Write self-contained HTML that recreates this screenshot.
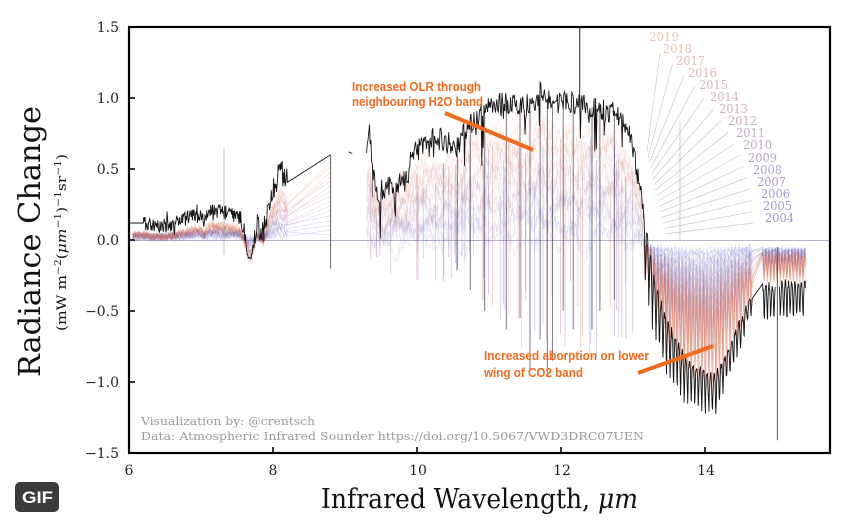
<!DOCTYPE html>
<html><head><meta charset="utf-8">
<style>
html,body{margin:0;padding:0;background:#fff;}
svg{display:block}
.tk{font-family:"DejaVu Serif","Liberation Serif",serif;font-size:14px;fill:#222}
.yr{font-family:"DejaVu Serif","Liberation Serif",serif;font-size:12px}
.ann{font-family:"Liberation Sans",Arial,sans-serif;font-weight:bold;font-size:12.5px;fill:#f26a1c}
.wm{font-family:"DejaVu Serif","Liberation Serif",serif;font-size:11px;fill:#9a9a9a}
</style></head><body>
<svg id="s" width="841" height="527" viewBox="0 0 841 527" xmlns="http://www.w3.org/2000/svg">
<defs><clipPath id="cp"><rect x="129" y="27" width="701" height="426"/></clipPath></defs>
<rect width="841" height="527" fill="#fff"/>
<line x1="129" y1="240.5" x2="830" y2="240.5" stroke="#b4b4c6" stroke-width="1"/>
<g id="lead"></g>
<g id="cur" clip-path="url(#cp)"></g>

<!-- year labels -->
<text class="yr" x="765" y="222" textLength="29" lengthAdjust="spacingAndGlyphs" fill="rgb(150,150,205)">2004</text>
<text class="yr" x="763" y="210" textLength="29" lengthAdjust="spacingAndGlyphs" fill="rgb(156,153,203)">2005</text>
<text class="yr" x="761" y="198" textLength="29" lengthAdjust="spacingAndGlyphs" fill="rgb(162,156,201)">2006</text>
<text class="yr" x="757" y="186" textLength="29" lengthAdjust="spacingAndGlyphs" fill="rgb(168,159,199)">2007</text>
<text class="yr" x="753" y="174" textLength="29" lengthAdjust="spacingAndGlyphs" fill="rgb(174,162,197)">2008</text>
<text class="yr" x="748" y="162" textLength="29" lengthAdjust="spacingAndGlyphs" fill="rgb(180,165,195)">2009</text>
<text class="yr" x="743" y="149" textLength="29" lengthAdjust="spacingAndGlyphs" fill="rgb(186,168,193)">2010</text>
<text class="yr" x="736" y="137" textLength="29" lengthAdjust="spacingAndGlyphs" fill="rgb(192,171,191)">2011</text>
<text class="yr" x="728" y="125" textLength="29" lengthAdjust="spacingAndGlyphs" fill="rgb(198,174,189)">2012</text>
<text class="yr" x="719" y="113" textLength="29" lengthAdjust="spacingAndGlyphs" fill="rgb(204,177,187)">2013</text>
<text class="yr" x="710" y="101" textLength="29" lengthAdjust="spacingAndGlyphs" fill="rgb(210,180,185)">2014</text>
<text class="yr" x="699" y="89" textLength="29" lengthAdjust="spacingAndGlyphs" fill="rgb(216,183,183)">2015</text>
<text class="yr" x="688" y="77" textLength="29" lengthAdjust="spacingAndGlyphs" fill="rgb(222,186,181)">2016</text>
<text class="yr" x="676" y="65" textLength="29" lengthAdjust="spacingAndGlyphs" fill="rgb(227,189,179)">2017</text>
<text class="yr" x="663" y="53" textLength="29" lengthAdjust="spacingAndGlyphs" fill="rgb(231,192,177)">2018</text>
<text class="yr" x="649" y="41" textLength="30" lengthAdjust="spacingAndGlyphs" fill="rgb(236,200,182)">2019</text>

<!-- annotations -->
<text class="ann" x="352" y="91" textLength="129" lengthAdjust="spacingAndGlyphs">Increased OLR through</text>
<text class="ann" x="352" y="106" textLength="131" lengthAdjust="spacingAndGlyphs">neighbouring H2O band</text>
<line x1="445" y1="113" x2="533" y2="150" stroke="#f26a1c" stroke-width="4"/>
<text class="ann" x="484" y="360" textLength="165" lengthAdjust="spacingAndGlyphs">Increased aborption on lower</text>
<text class="ann" x="484" y="377" textLength="99" lengthAdjust="spacingAndGlyphs">wing of CO2 band</text>
<line x1="638" y1="373" x2="713" y2="346" stroke="#f26a1c" stroke-width="4"/>

<!-- watermark -->
<text class="wm" x="141" y="425" textLength="174" lengthAdjust="spacingAndGlyphs">Visualization by: @crentsch</text>
<text class="wm" x="141" y="440" textLength="503" lengthAdjust="spacingAndGlyphs">Data: Atmospheric Infrared Sounder https://doi.org/10.5067/VWD3DRC07UEN</text>

<!-- axes -->
<rect x="129" y="27" width="701" height="426" fill="none" stroke="#000" stroke-width="2.2"/>
<g stroke="#000" stroke-width="1.6">
<line x1="129" y1="98" x2="135" y2="98"/>
<line x1="129" y1="169" x2="135" y2="169"/>
<line x1="129" y1="240" x2="135" y2="240"/>
<line x1="129" y1="311" x2="135" y2="311"/>
<line x1="129" y1="382" x2="135" y2="382"/>
<line x1="273" y1="453" x2="273" y2="447"/>
<line x1="417" y1="453" x2="417" y2="447"/>
<line x1="561" y1="453" x2="561" y2="447"/>
<line x1="705" y1="453" x2="705" y2="447"/>
</g>
<g class="tk" text-anchor="end">
<text x="119" y="32">1.5</text>
<text x="119" y="103">1.0</text>
<text x="119" y="174">0.5</text>
<text x="119" y="245">0.0</text>
<text x="119" y="316">−0.5</text>
<text x="119" y="387">−1.0</text>
<text x="119" y="458">−1.5</text>
</g>
<g class="tk" text-anchor="middle">
<text x="129" y="475">6</text>
<text x="273" y="475">8</text>
<text x="418" y="475">10</text>
<text x="562" y="475">12</text>
<text x="706" y="475">14</text>
</g>

<text transform="translate(40,377) rotate(-90)" x="0" y="0" font-family="'DejaVu Serif','Liberation Serif',serif" font-size="30" fill="#111" textLength="271" lengthAdjust="spacingAndGlyphs">Radiance Change</text>
<text transform="translate(66,331) rotate(-90)" x="0" y="0" font-family="'DejaVu Serif','Liberation Serif',serif" font-size="13" fill="#111" textLength="177" lengthAdjust="spacingAndGlyphs">(mW m<tspan dy="-5" font-size="9">−2</tspan><tspan dy="5">(</tspan><tspan font-style="italic">μm</tspan><tspan dy="-5" font-size="9">−1</tspan><tspan dy="5">)</tspan><tspan dy="-5" font-size="9">−1</tspan><tspan dy="5">sr</tspan><tspan dy="-5" font-size="9">−1</tspan><tspan dy="5">)</tspan></text>

<text x="321" y="508" font-family="'DejaVu Serif','Liberation Serif',serif" font-size="27" fill="#111" textLength="317" lengthAdjust="spacingAndGlyphs">Infrared Wavelength, <tspan font-style="italic">μm</tspan></text>

<rect x="15" y="482" width="44" height="30" rx="5" fill="#3b3b3b"/>
<text x="22" y="503" font-family="'Liberation Sans',Arial,sans-serif" font-weight="bold" font-size="17" fill="#fff" textLength="31" lengthAdjust="spacingAndGlyphs">GIF</text>
</svg>
<script>
(function(){
function mb(a){return function(){a|=0;a=a+0x6D2B79F5|0;var t=Math.imul(a^a>>>15,1|a);t=t+Math.imul(t^t>>>7,61|t)^t;return((t^t>>>14)>>>0)/4294967296;};}
var R=mb(12345);
function X(w){return 129+(w-6)*72;}
function Y(v){return 240-v*142;}
function ip(p,w){if(w<=p[0][0])return p[0][1];for(var i=1;i<p.length;i++){if(w<=p[i][0]){var a=p[i-1],b=p[i];return a[1]+(b[1]-a[1])*(w-a[0])/(b[0]-a[0]);}}return p[p.length-1][1];}
var Lp=[[6.2,0.12],[6.35,0.1],[6.5,0.1],[6.7,0.13],[6.9,0.17],[7.0,0.17],[7.05,0.13],[7.1,0.2],[7.3,0.2],[7.5,0.17],[7.55,0.15],[7.6,0.05],[7.68,-0.1],[7.74,0.0],[7.78,0.13],[7.86,0.04],[7.92,0.2],[7.98,0.33],[8.05,0.4],[8.1,0.5],[8.15,0.45],[8.2,0.36]];
var Mp=[[9.3,0.6],[9.34,0.77],[9.38,0.5],[9.42,0.35],[9.45,0.3],[9.55,0.38],[9.7,0.38],[9.85,0.42],[9.95,0.62],[10.05,0.65],[10.25,0.72],[10.4,0.7],[10.56,0.66],[10.7,0.8],[10.87,0.87],[11.06,0.97],[11.3,0.95],[11.6,0.96],[11.68,1.05],[11.8,0.98],[12.0,0.97],[12.3,0.95],[12.54,0.92],[12.82,0.88],[12.95,0.75],[13.05,0.5],[13.15,0.2]];
var Up=[[13.15,0.2],[13.3,-0.3],[13.5,-0.6],[13.7,-0.8],[13.9,-0.9],[14.05,-0.95],[14.15,-0.95],[14.3,-0.8],[14.45,-0.6],[14.6,-0.45],[14.66,-0.38]];
var Lo=[[13.15,-0.3],[13.3,-0.7],[13.5,-1.0],[13.7,-1.15],[13.9,-1.2],[14.05,-1.22],[14.15,-1.25],[14.3,-1.0],[14.45,-0.85],[14.6,-0.6],[14.66,-0.5]];
function ph(w,per){var t=((w-13.0)/per)%1;if(t<0)t+=1;return t;}
function tri(w,per){return Math.abs(2*ph(w,per)-1);}
function cusp(w,per){var o=Math.abs(2*ph(w,per)-1);return 1-Math.pow(1-o,2.2);}
var NS='http://www.w3.org/2000/svg';
var g=document.getElementById('cur');
var gl=document.getElementById('lead');
function add(par,tag,at){var e=document.createElementNS(NS,tag);for(var k in at)e.setAttribute(k,at[k]);par.appendChild(e);return e;}
function ps(pts){var s='';for(var i=0;i<pts.length;i++){s+=(i?'L':'M')+X(pts[i][0]).toFixed(1)+' '+Y(pts[i][1]).toFixed(1);}return s;}
function col(k){var t=k/15;return 'rgb('+Math.round(80+150*t)+','+Math.round(90+10*t)+','+Math.round(205-150*t)+')';}

// leader lines
var lx=[765,763,761,757,753,748,743,736,728,719,710,699,688,676,663,649];
for(var k=0;k<16;k++){
  var by=222-k*12.07;
  add(gl,'line',{x1:(lx[k]-12+k*1.53).toFixed(1),y1:(by+1+k*0.73).toFixed(1),x2:(665-k*1.2).toFixed(1),y2:(234-k*5.5).toFixed(1),stroke:'#c8c8d0','stroke-width':0.7});
}

var w;
// colored curves
for(k=0;k<16;k++){
  var s=(k+1)/16,c=col(k);
  var P=[];
  for(w=6.05;w<=8.2;w+=0.01){P.push([w,0.02+0.02*s+s*0.85*(ip(Lp,w)-0.12)+(R()-0.5)*0.06]);}
  P.push([8.8,0.55*s]);
  add(g,'path',{d:ps(P),fill:'none',stroke:c,'stroke-width':0.7,opacity:0.22});
  var Q=[],ph1=R()*6.28,ph2=R()*6.28;
  for(w=9.3;w<=13.15;w+=0.012){
    var wob=0.08*Math.sin(w*7+ph1)+0.05*Math.sin(w*19+ph2);
    Q.push([w,0.0+s*0.78*ip(Mp,w)+wob+(R()-0.5)*0.14]);
  }
  add(g,'path',{d:ps(Q),fill:'none',stroke:c,'stroke-width':0.7,opacity:0.13});
  var Q2=[];
  for(w=13.15;w<=14.66;w+=0.005){
    var U=ip(Up,w),L=ip(Lo,w);
    var Uk=-0.04+s*0.45*(U+0.04), Lk=-0.04+s*0.92*(L+0.04);
    Q2.push([w,Lk+(Uk-Lk)*tri(w,0.049)+(R()-0.5)*0.05]);
  }
  for(w=14.8;w<=15.4;w+=0.005){
    var Uk2=-0.06-s*0.05, Lk2=-0.06-s*0.26;
    Q2.push([w,Lk2+(Uk2-Lk2)*tri(w,0.045)+(R()-0.5)*0.04]);
  }
  add(g,'path',{d:ps(Q2),fill:'none',stroke:c,'stroke-width':0.7,opacity:0.24});
}
// colored spikes
for(var i=0;i<55;i++){
  w=9.3+R()*3.8;
  var d=w<10.8?(-0.08-R()*0.22):(-0.25-R()*0.6);
  var kk=Math.floor(R()*16);
  add(g,'line',{x1:X(w).toFixed(1),y1:Y(ip(Mp,w)*(0.3+R()*0.5)).toFixed(1),x2:X(w).toFixed(1),y2:Y(d).toFixed(1),stroke:col(kk),'stroke-width':0.8,opacity:0.35});
}
// black curve
var B=[[6.0,0.12],[6.2,0.12]];
for(w=6.2;w<=8.2;w+=0.008){
  var sp0=R()<0.08?(R()-0.5)*0.12:0;
  B.push([w,ip(Lp,w)+(R()-0.5)*(w>7.55?0.18:0.1)+sp0]);
}
B.push([8.8,0.6]);
add(g,'path',{d:ps(B),fill:'none',stroke:'#151515','stroke-width':0.9});
var B2=[];
for(w=9.3;w<=13.15;w+=0.01){B2.push([w,ip(Mp,w)+(R()-0.5)*0.16-(R()<0.07?R()*0.3:0)]);}
for(w=13.15;w<=14.66;w+=0.005){B2.push([w,ip(Lo,w)+(ip(Up,w)-ip(Lo,w))*cusp(w,0.049)+(R()-0.5)*0.06]);}
for(w=14.8;w<=14.98;w+=0.005){B2.push([w,-0.6+0.28*cusp(w,0.045)+(R()-0.5)*0.05]);}
add(g,'path',{d:ps(B2),fill:'none',stroke:'#151515','stroke-width':0.9});
var B3=[];
for(w=15.03;w<=15.4;w+=0.005){B3.push([w,-0.58+0.28*cusp(w,0.045)+(R()-0.5)*0.05]);}
add(g,'path',{d:ps(B3),fill:'none',stroke:'#151515','stroke-width':0.9});
// black spikes
var sp=[[11.24,-0.63],[11.57,-0.92],[11.81,-0.95],[11.88,-0.85],[12.17,-0.63],[12.43,-0.63],[12.74,-0.42],[10.74,-0.35],[10.56,-0.21],[10.94,-0.5],[11.43,-0.55],[11.71,-0.7],[12.03,-0.5],[12.54,-0.5],[9.38,0.3]];
for(i=0;i<sp.length;i++){
  w=sp[i][0];
  add(g,'line',{x1:X(w).toFixed(1),y1:Y(ip(Mp,w)).toFixed(1),x2:X(w).toFixed(1),y2:Y(sp[i][1]).toFixed(1),stroke:'#3a2a3a','stroke-width':0.9,opacity:0.7});
}
// misc verticals / bits
add(g,'line',{x1:X(12.26),y1:Y(0.95),x2:X(12.26),y2:27,stroke:'#222','stroke-width':1});
add(g,'line',{x1:224,y1:147,x2:224,y2:255,stroke:'#999','stroke-width':0.6});
add(g,'line',{x1:X(8.8),y1:Y(0.6),x2:X(8.8),y2:Y(-0.2),stroke:'#555','stroke-width':0.9});
add(g,'line',{x1:680,y1:120,x2:680,y2:240,stroke:'#aaa','stroke-width':0.6});
add(g,'line',{x1:X(15.005),y1:Y(-0.05),x2:X(15.005),y2:Y(-1.41),stroke:'#555','stroke-width':1});
add(g,'line',{x1:X(9.05),y1:Y(0.62),x2:X(9.1),y2:Y(0.61),stroke:'#333','stroke-width':1});
})();
</script>
</body></html>
